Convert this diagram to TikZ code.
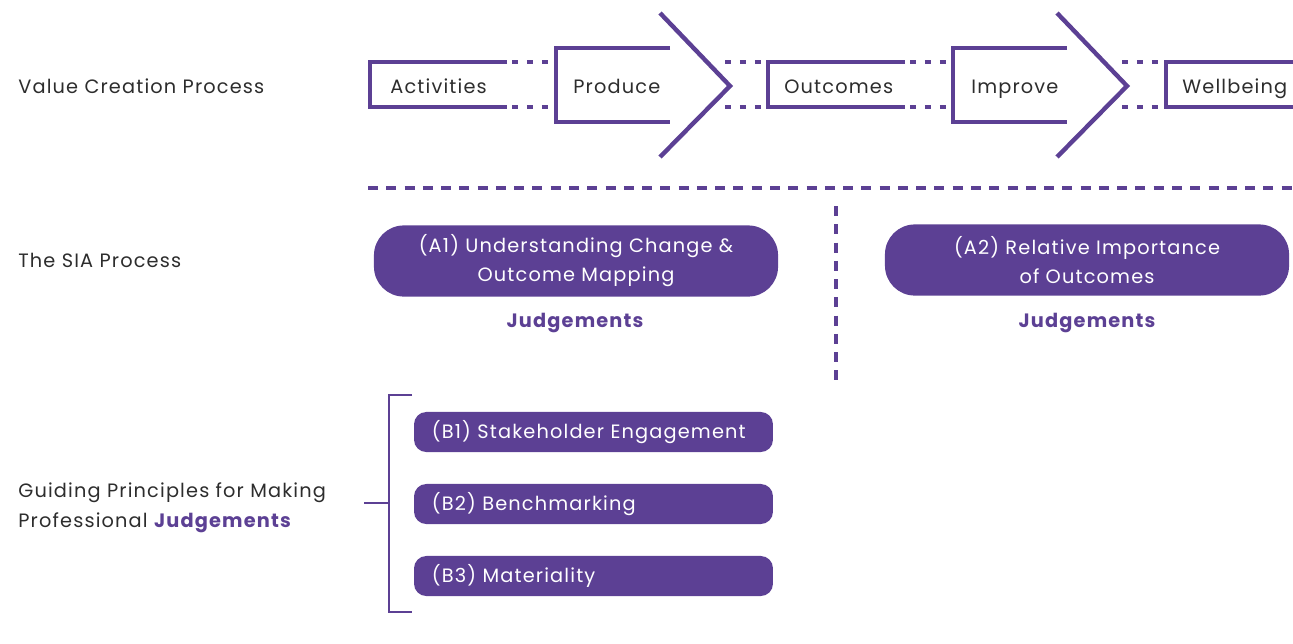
\documentclass[tikz,border=0pt]{standalone}
\usepackage{fontspec}
\setmainfont{Poppins}[LetterSpace=6]
\usetikzlibrary{positioning}
\definecolor{siapurple}{RGB}{92,64,148}
\definecolor{labelgray}{RGB}{45,45,45}
\tikzset{
  stage/.style={draw=siapurple, line width=2.5pt},
  link/.style={draw=siapurple, line width=2.5pt, dash pattern=on 3.4pt off 5.1pt},
  divider/.style={draw=siapurple, line width=2.8pt, dash pattern=on 5.7pt off 4.7pt},
  bracket/.style={draw=siapurple, line width=1.5pt},
  label/.style={text=labelgray, font=\fontsize{11}{17}\selectfont, anchor=base west, inner sep=0pt, align=left},
  apill/.style={fill=siapurple, text=white, rounded corners=17pt, minimum width=230pt,
    minimum height=40.5pt, inner sep=0pt, align=center, font=\fontsize{11}{16.5}\selectfont},
  bpill/.style={fill=siapurple, text=white, rounded corners=7pt, minimum width=204.3pt,
    minimum height=22.8pt, text width=184pt, inner xsep=10pt, inner ysep=0pt, align=left,
    font=\fontsize{11}{13}\selectfont},
  judge/.style={text=siapurple, font=\fontsize{11}{13}\selectfont\bfseries, inner sep=0pt}
}
\begin{document}
\begin{tikzpicture}[x=0.02cm, y=-0.02cm]
  \useasboundingbox (0,0) rectangle (1293,643);
  \node[label] (valuecreation) at (18,93) {Value Creation Process};
  \node[label] (siaprocess) at (18,267) {The SIA Process};
  \node[label] (guiding) at (18,527) {Guiding Principles for Making\\Professional \textcolor{siapurple}{\bfseries Judgements}};

  \draw[stage] (507,62) -- (370,62) -- (370,107) -- (507,107);
  \draw[link] (512,62) -- (552,62) (512,107) -- (552,107);
  \draw[stage] (670,48) -- (556,48) -- (556,122) -- (670,122);
  \draw[stage] (660,13) -- (730,86) -- (660,157);
  \draw[link] (725,62) -- (764,62) (725,107) -- (764,107);
  \draw[stage] (905,62) -- (768,62) -- (768,107) -- (905,107);
  \draw[link] (910,62) -- (950,62) (910,107) -- (950,107);
  \draw[stage] (1067,48) -- (953,48) -- (953,122) -- (1067,122);
  \draw[stage] (1057,13) -- (1127,86) -- (1057,157);
  \draw[link] (1122,62) -- (1161,62) (1122,107) -- (1161,107);
  \draw[stage] (1310,62) -- (1166,62) -- (1166,107) -- (1310,107);
  \node[label] (activities) at (390,93) {Activities};
  \node[label] (produce) at (573,93) {Produce};
  \node[label] (outcomes) at (784,93) {Outcomes};
  \node[label] (improve) at (971,93) {Improve};
  \node[label] (wellbeing) at (1182,93) {Wellbeing};

  \draw[divider] (368,188) -- (1300,188);
  \draw[divider] (836,206) -- (836,380);

  \node[apill] (a1) at (576,261) {(A1) Understanding Change \&\\Outcome Mapping};
  \node[apill] (a2) at (1087,260) {(A2) Relative Importance\\of Outcomes};
  \node[judge] (judgeA1) at (575,323) {Judgements};
  \node[judge] (judgeA2) at (1087,323) {Judgements};

  \node[bpill] (b1) at (593.5,432) {(B1) Stakeholder Engagement};
  \node[bpill] (b2) at (593.5,504) {(B2) Benchmarking};
  \node[bpill] (b3) at (593.5,576) {(B3) Materiality};
  \coordinate (btop) at (412,395);
  \coordinate (bbot) at (412,612);
  \coordinate (bstub) at (364,503);
  \draw[bracket] (btop) -- (389,395) -- (389,612) -- (bbot);
  \draw[bracket] (bstub) -- (389,503);
\end{tikzpicture}
\end{document}
